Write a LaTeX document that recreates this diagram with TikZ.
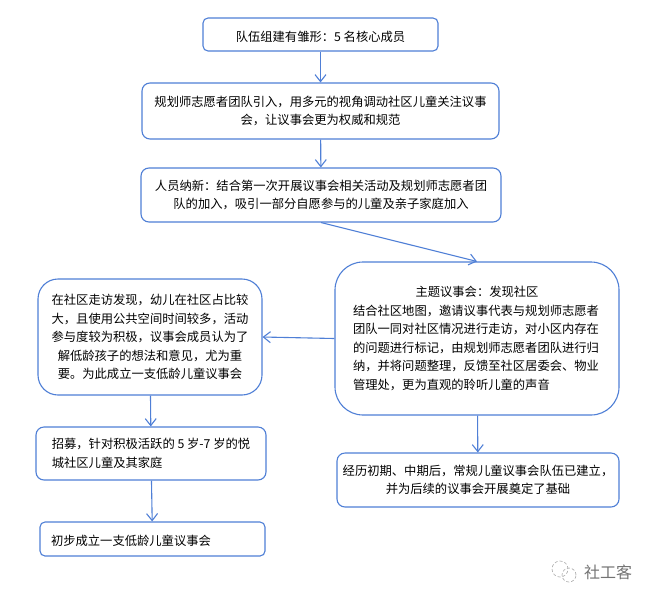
\documentclass[tikz,border=0pt]{standalone}
\usepackage{fontspec}
\setmainfont{Noto Sans CJK SC}
\usetikzlibrary{arrows.meta}
\definecolor{flowblue}{HTML}{4F7FD6}
\tikzset{
  flowbox/.style={draw=flowblue,line width=1.1pt,fill=white,rounded corners=#1,inner sep=0pt,font=\fontsize{12.3}{18.5}\selectfont,execute at begin node={\rule{0pt}{15pt}}},
  flowbox/.default=8pt,
  flowarrow/.style={draw=flowblue,line width=1.1pt,-{Straight Barb[length=7pt,width=11pt]}},
}
\begin{document}
\begin{tikzpicture}[x=1pt,y=1pt]
\useasboundingbox (0,0) rectangle (652,-600);
\node[flowbox=5pt,minimum width=235pt,minimum height=33pt] at (320.5,-34.5) (team) {队伍组建有雏形：5 名核心成员};
\node[flowbox,minimum width=357pt,minimum height=56pt,align=center] at (320.5,-111) (planner) {规划师志愿者团队引入，用多元的视角调动社区儿童关注议事\\会，让议事会更为权威和规范};
\node[flowbox,minimum width=360pt,minimum height=54pt,align=center] at (321,-195) (member) {人员纳新：结合第一次开展议事会相关活动及规划师志愿者团\\队的加入，吸引一部分自愿参与的儿童及亲子家庭加入};
\node[flowbox=28pt,minimum width=284pt,minimum height=153pt,align=left] at (477,-338.5) (theme) {\makebox[248pt][c]{主题议事会：发现社区}\\结合社区地图，邀请议事代表与规划师志愿者\\团队一同对社区情况进行走访，对小区内存在\\的问题进行标记，由规划师志愿者团队进行归\\纳，并将问题整理，反馈至社区居委会、物业\\管理处，更为直观的聆听儿童的声音};
\node[flowbox=20pt,minimum width=224pt,minimum height=116pt,align=center] at (150,-337) (visit) {在社区走访发现，幼儿在社区占比较\\大，且使用公共空间时间较多，活动\\参与度较为积极，议事会成员认为了\\解低龄孩子的想法和意见，尤为重\\要。为此成立一支低龄儿童议事会};
\node[flowbox,minimum width=230pt,minimum height=53pt,align=left] at (151,-453.5) (recruit) {招募，针对积极活跃的 5 岁-7 岁的悦\\城社区儿童及其家庭};
\node[flowbox=5pt,minimum width=225pt,minimum height=34pt] at (152.5,-539) (found) {\makebox[203pt][l]{初步成立一支低龄儿童议事会}};
\node[flowbox,minimum width=282pt,minimum height=54pt,align=center] at (478,-480) (result) {经历初期、中期后，常规儿童议事会队伍已建立，\\并为后续的议事会开展奠定了基础};
\draw[flowarrow] (team) -- (planner);
\draw[flowarrow] (planner) -- (member);
\draw[flowarrow] (member.south) -- (theme.north);
\draw[flowarrow] (theme.west) -- (visit.east);
\draw[flowarrow] (visit) -- (recruit);
\draw[flowarrow] (recruit) -- (found);
\draw[flowarrow] (theme) -- (result);
% watermark
\node[text=black!55,font=\fontsize{16}{16}\selectfont] at (608,-572) (mark) {社工客};
\draw[black!30,densely dashed,line width=.7pt] (560,-569) circle (8pt);
\draw[black!30,densely dashed,line width=.7pt] (569,-575) circle (7pt);
\end{tikzpicture}
\end{document}
